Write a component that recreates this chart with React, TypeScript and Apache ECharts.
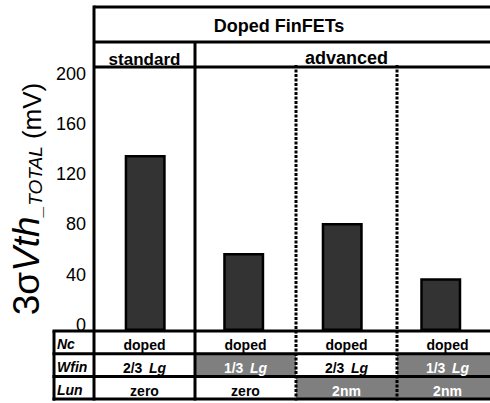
import React, { useEffect, useRef } from 'react';
import * as echarts from 'echarts';

// Device columns and measured 3σVth_TOTAL (mV)
const categories = ['standard', 'advanced-1', 'advanced-2', 'advanced-3'];
const sigmaVthTotal = [140, 62, 86, 42];

// Table rows under the bars
const ncRow = ['doped', 'doped', 'doped', 'doped'];
const wfinRow = ['2/3', '1/3', '2/3', '1/3'];
const lunRow = ['zero', 'zero', '2nm', '2nm'];

// Header groups (label, number of columns spanned)
const groupTitle = 'Doped FinFETs';
const groupHeaders = [
  { label: 'standard', span: 1 },
  { label: 'advanced', span: 3 },
];

// Value axis
const yMin = 0;
const yMax = 210;
const yStep = 40;

// Layout
const GRID_LEFT = 94;
const GRID_TOP = 67;
const COL_W = 101;
const AXIS_Y = 331;
const ROW_H = 22.7;
const HEAD_TOP = 7;
const HEAD_MID = 42;
const TABLE_LEFT = 54;
const GREY = '#7f7f7f';
const FONT = '"Liberation Sans", Arial, sans-serif';

function buildGraphics() {
  const n = categories.length;
  const right = GRID_LEFT + COL_W * n;
  const tableBottom = AXIS_Y + ROW_H * 3;
  const els: any[] = [];

  const line = (x1: number, y1: number, x2: number, y2: number, dotted = false) => ({
    type: 'line',
    z: 20,
    shape: { x1, y1, x2, y2 },
    style: {
      stroke: '#000',
      lineWidth: 3,
      lineDash: dotted ? [3, 1.5] : null,
    },
  });

  const rows = [
    { label: 'Nc', values: ncRow, lg: false },
    { label: 'Wfin', values: wfinRow, lg: true },
    { label: 'Lun', values: lunRow, lg: false },
  ];

  // shaded cells: parameters that differ from the standard device
  rows.forEach((row, r) => {
    row.values.forEach((v, c) => {
      const shaded = v !== row.values[0];
      const x0 = GRID_LEFT + c * COL_W;
      const y0 = AXIS_Y + r * ROW_H;
      if (shaded) {
        els.push({
          type: 'rect',
          z: 5,
          shape: { x: x0, y: y0, width: COL_W, height: ROW_H },
          style: { fill: GREY },
        });
      }
      const fill = shaded ? '#fff' : '#000';
      const cx = x0 + COL_W / 2;
      const cy = y0 + ROW_H / 2 + 3;
      els.push({
        type: 'text',
        z: 30,
        x: cx,
        y: cy,
        style: row.lg
          ? {
              text: `{n|${v}}  {i|Lg}`,
              align: 'center',
              verticalAlign: 'middle',
              rich: {
                n: { fill, fontSize: 14, fontWeight: 'bold', fontFamily: FONT },
                i: { fill, fontSize: 14, fontWeight: 'bold', fontStyle: 'italic', fontFamily: FONT },
              },
            }
          : {
              text: v,
              align: 'center',
              verticalAlign: 'middle',
              fill,
              fontSize: 14,
              fontWeight: 'bold',
              fontFamily: FONT,
            },
      });
    });
    els.push({
      type: 'text',
      z: 30,
      x: TABLE_LEFT + 3,
      y: AXIS_Y + r * ROW_H + ROW_H / 2 + 2,
      style: {
        text: row.label,
        align: 'left',
        verticalAlign: 'middle',
        fill: '#000',
        fontSize: 14,
        fontWeight: 'bold',
        fontStyle: 'italic',
        fontFamily: FONT,
      },
    });
  });

  // header texts
  els.push({
    type: 'text',
    z: 30,
    x: GRID_LEFT + 185,
    y: (HEAD_TOP + HEAD_MID) / 2 + 1,
    style: {
      text: groupTitle,
      align: 'center',
      verticalAlign: 'middle',
      fill: '#000',
      fontSize: 18,
      fontWeight: 'bold',
      fontFamily: FONT,
    },
  });
  let col = 0;
  groupHeaders.forEach((g, i) => {
    const x0 = GRID_LEFT + col * COL_W;
    const x1 = x0 + g.span * COL_W;
    els.push({
      type: 'text',
      z: 30,
      x: (x0 + x1) / 2,
      y: (HEAD_MID + GRID_TOP) / 2 + (i === 0 ? 5 : 3),
      style: {
        text: g.label,
        align: 'center',
        verticalAlign: 'middle',
        fill: '#000',
        fontSize: i === 0 ? 17 : 18,
        fontWeight: 'bold',
        fontFamily: FONT,
      },
    });
    col += g.span;
  });

  // frame lines
  els.push(line(GRID_LEFT, HEAD_TOP, right, HEAD_TOP));
  els.push(line(GRID_LEFT, HEAD_MID, right, HEAD_MID));
  els.push(line(GRID_LEFT, GRID_TOP, right, GRID_TOP));
  els.push(line(GRID_LEFT, HEAD_TOP - 1.5, GRID_LEFT, tableBottom + 1.5));
  els.push(line(GRID_LEFT + COL_W, HEAD_MID, GRID_LEFT + COL_W, tableBottom + 1.5));
  for (let c = 2; c < n; c++) {
    els.push(line(GRID_LEFT + c * COL_W, GRID_TOP - 2, GRID_LEFT + c * COL_W, tableBottom + 1.5, true));
  }
  for (let r = 0; r <= 3; r++) {
    els.push(line(TABLE_LEFT - 1.5, AXIS_Y + r * ROW_H, right, AXIS_Y + r * ROW_H));
  }
  els.push(line(TABLE_LEFT, AXIS_Y, TABLE_LEFT, tableBottom + 1.5));

  return els;
}

export default function App() {
  const ref = useRef<HTMLDivElement>(null);

  useEffect(() => {
    if (!ref.current) return;
    const chart = echarts.init(ref.current, null, { renderer: 'svg' });
    chart.setOption({
      animation: false,
      backgroundColor: '#fff',
      grid: {
        left: GRID_LEFT,
        top: GRID_TOP,
        width: COL_W * categories.length,
        height: AXIS_Y - GRID_TOP,
        containLabel: false,
      },
      xAxis: {
        type: 'category',
        data: categories,
        axisLine: { show: false },
        axisTick: { show: false },
        axisLabel: { show: false },
      },
      yAxis: {
        type: 'value',
        min: yMin,
        max: yMax,
        interval: yStep,
        splitLine: { show: false },
        axisLine: { show: false },
        axisTick: { show: false },
        axisLabel: {
          showMaxLabel: false,
          color: '#000',
          fontSize: 18,
          fontFamily: FONT,
          margin: 10,
          verticalAlign: 'bottom',
          lineHeight: 12,
        },
        name: '{a|3σ}{b|Vth}{c|_TOTAL}{d| (mV)}',
        nameLocation: 'middle',
        nameRotate: 90,
        nameGap: 36,
        nameTextStyle: {
          rich: {
            a: { fontSize: 37, fontFamily: FONT, color: '#000', verticalAlign: 'bottom' },
            b: { fontSize: 37, fontStyle: 'italic', fontFamily: FONT, color: '#000', verticalAlign: 'bottom' },
            c: { fontSize: 19, fontStyle: 'italic', fontFamily: FONT, color: '#000', verticalAlign: 'bottom' },
            d: { fontSize: 26, fontFamily: FONT, color: '#000', verticalAlign: 'bottom' },
          },
        },
      },
      series: [
        {
          type: 'bar',
          data: sigmaVthTotal,
          barWidth: 41,
          itemStyle: { color: '#333333', borderColor: '#000', borderWidth: 2.5 },
        },
      ],
      graphic: buildGraphics(),
    });
    return () => chart.dispose();
  }, []);

  return (
    <div
      ref={ref}
      style={{ position: 'fixed', left: 0, top: 0, width: 490, height: 403, background: '#fff' }}
    />
  );
}
